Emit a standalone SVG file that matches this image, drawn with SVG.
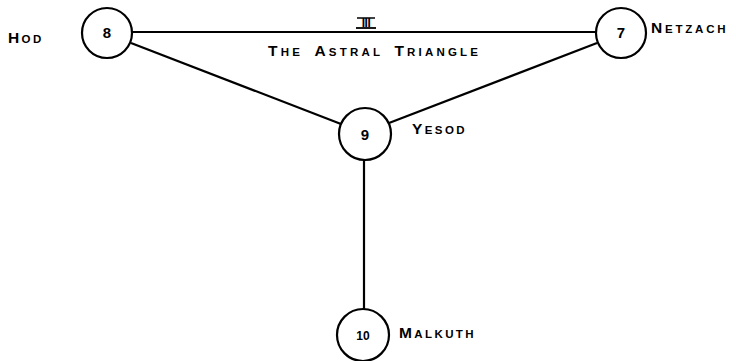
<svg xmlns="http://www.w3.org/2000/svg" width="736" height="361" viewBox="0 0 736 361">
<style>
.node circle{fill:#fff;stroke:#000;stroke-width:2.2}
.num{font-family:"Liberation Sans",Arial,sans-serif;font-weight:bold;font-size:15px;text-anchor:middle}
.lbl{font-family:"Liberation Sans",Arial,sans-serif;font-weight:bold;font-size:11.5px;letter-spacing:2.4px}
.big{font-size:15.5px}
.edge{stroke:#000;stroke-width:2.2;fill:none}
</style>
<rect width="736" height="361" fill="#fff"/>
<g id="connectors">
<line class="edge" x1="132" y1="32" x2="596" y2="32"/>
<line class="edge" x1="131" y1="43" x2="341" y2="124"/>
<line class="edge" x1="597" y1="43" x2="389" y2="123"/>
<line class="edge" x1="364" y1="160" x2="364" y2="310"/>
</g>
<g id="title">
<text x="366" y="27" text-anchor="middle" style="font-family:'Liberation Sans',Arial,sans-serif;font-weight:bold;font-size:12px;letter-spacing:-0.5px">III</text>
<line x1="357" y1="18" x2="375" y2="18" stroke="#000" stroke-width="1.5"/>
<line x1="356" y1="28" x2="376" y2="28" stroke="#000" stroke-width="1.8"/>
<text x="268" y="56" class="lbl" style="letter-spacing:3.2px;word-spacing:5px"><tspan class="big">T</tspan>HE <tspan class="big">A</tspan>STRAL <tspan class="big">T</tspan>RIANGLE</text>
</g>
<g id="hod" class="node">
<circle cx="107" cy="33" r="25"/>
<text x="107" y="38" class="num">8</text>
<text x="8" y="43" class="lbl"><tspan class="big">H</tspan>OD</text>
</g>
<g id="netzach" class="node">
<circle cx="621" cy="33" r="25"/>
<text x="621" y="38" class="num">7</text>
<text x="651" y="33" class="lbl" style="letter-spacing:2.8px"><tspan class="big">N</tspan>ETZACH</text>
</g>
<g id="yesod" class="node">
<circle cx="365" cy="134" r="26"/>
<text x="365" y="140" class="num">9</text>
<text x="412" y="134" class="lbl"><tspan class="big">Y</tspan>ESOD</text>
</g>
<g id="malkuth" class="node">
<circle cx="363" cy="335" r="26"/>
<text x="363" y="340" class="num" style="font-size:12px">10</text>
<text x="399" y="338" class="lbl"><tspan class="big">M</tspan>ALKUTH</text>
</g>
</svg>
